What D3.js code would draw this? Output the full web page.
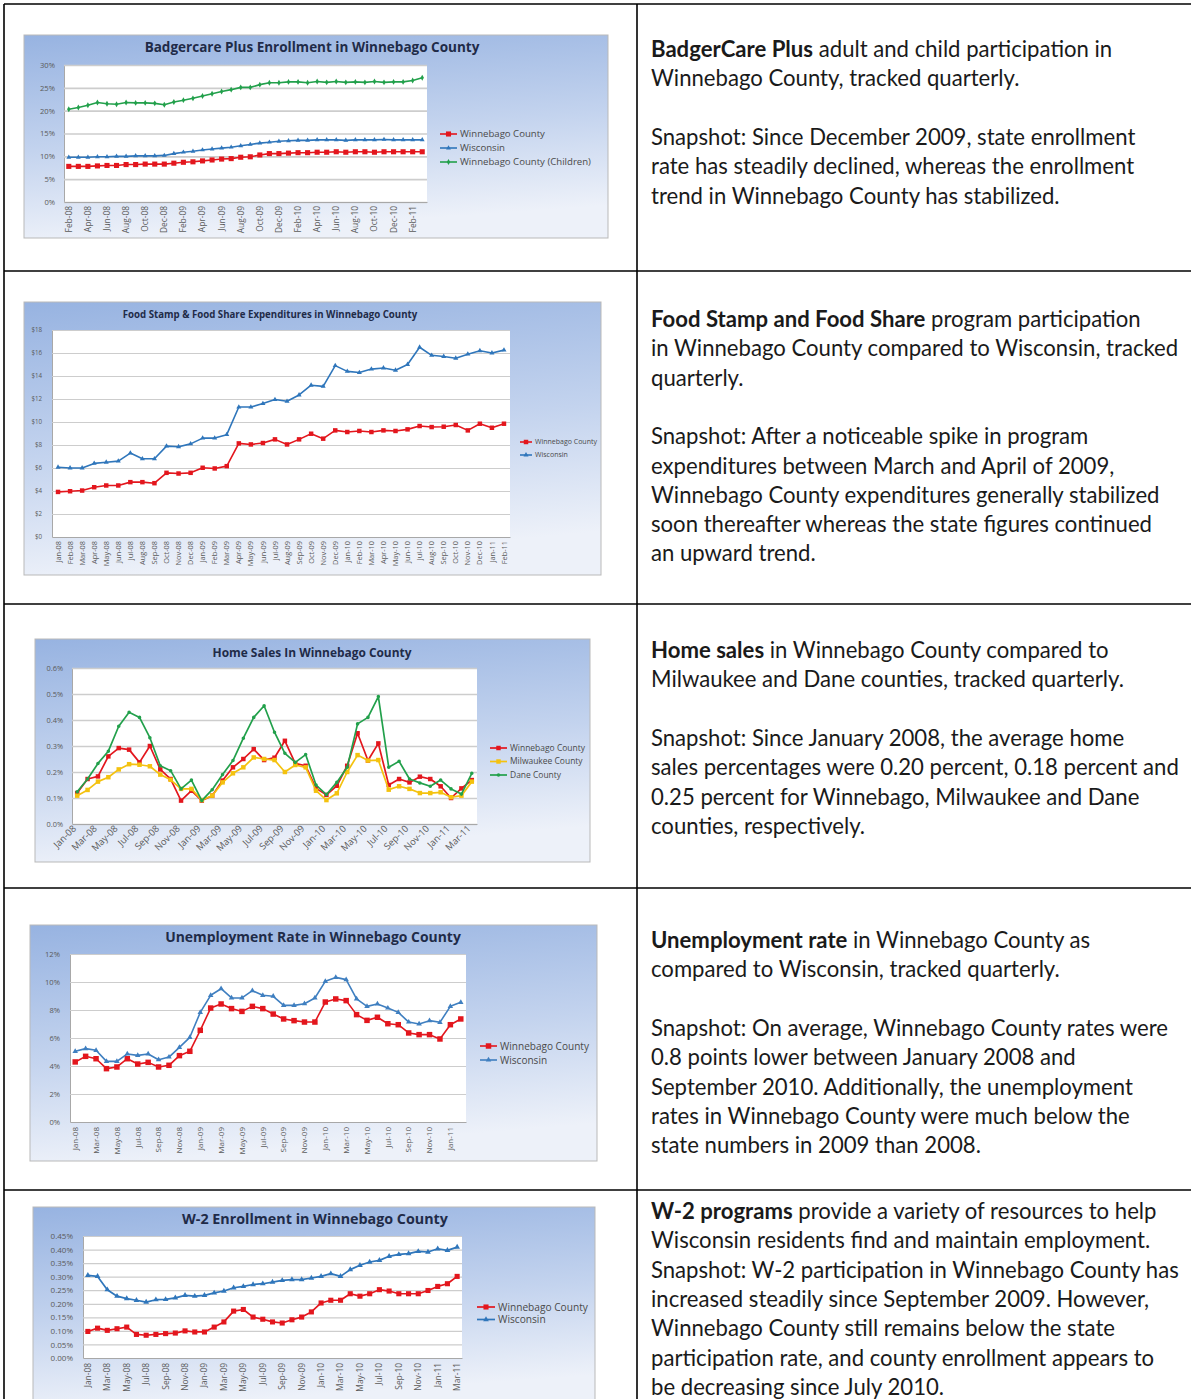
<!DOCTYPE html>
<html lang="en">
<head>
<meta charset="UTF-8">
<title>Winnebago County Indicators</title>
<script src="https://d3js.org/d3.v7.min.js"></script>
<style>
  body { margin: 0; padding: 0; background: #ffffff; }
  svg { display: block; }
  .chart-title { font-family: 'Open Sans', sans-serif; font-weight: bold; fill: #1f2b48; text-anchor: middle; }
  .axis text { font-family: 'Open Sans', sans-serif; fill: #5a5a5a; }
  .legend-text { font-family: 'Open Sans', sans-serif; fill: #4a4a4a; }
  .note { font-family: Lato, 'Open Sans', sans-serif; fill: #1a1a1a; }
</style>
</head>
<body>
<svg width="1191" height="1399"></svg>
<script>
// ---- categories ----
const months = [
  "Jan-08","Feb-08","Mar-08","Apr-08","May-08","Jun-08","Jul-08","Aug-08","Sep-08","Oct-08","Nov-08","Dec-08",
  "Jan-09","Feb-09","Mar-09","Apr-09","May-09","Jun-09","Jul-09","Aug-09","Sep-09","Oct-09","Nov-09","Dec-09",
  "Jan-10","Feb-10","Mar-10","Apr-10","May-10","Jun-10","Jul-10","Aug-10","Sep-10","Oct-10","Nov-10","Dec-10",
  "Jan-11","Feb-11","Mar-11"
];
const badgerMonths = months.slice(1, 39);   // Feb-08 .. Mar-11
const foodMonths = months.slice(0, 38);     // Jan-08 .. Feb-11
const homeMonths = months.slice(0, 39);     // Jan-08 .. Mar-11
const unempMonths = months.slice(0, 38);    // Jan-08 .. Feb-11
const w2Months = months.slice(0, 39);       // Jan-08 .. Mar-11

// ---- BadgerCare Plus enrollment (%) ----
const badgerCounty = [7.8,7.8,7.8,7.9,8.0,8.0,8.2,8.2,8.3,8.3,8.3,8.5,8.7,8.8,9.0,9.2,9.4,9.5,9.8,9.9,
  10.3,10.6,10.6,10.7,10.8,10.8,10.9,10.9,11.0,10.9,11.0,11.0,10.9,11.0,11.0,11.0,11.0,11.0];
const badgerState = [9.8,9.8,9.8,9.9,9.9,10.0,10.0,10.1,10.1,10.1,10.2,10.6,10.9,11.1,11.4,11.6,11.8,12.0,12.3,12.6,
  12.9,13.1,13.3,13.4,13.5,13.5,13.6,13.6,13.6,13.5,13.6,13.6,13.6,13.7,13.6,13.6,13.6,13.6];
const badgerChildren = [20.3,20.7,21.2,21.8,21.5,21.4,21.8,21.7,21.7,21.6,21.3,21.9,22.3,22.7,23.2,23.7,24.2,24.6,25.1,25.1,
  25.7,26.1,26.1,26.3,26.3,26.1,26.4,26.2,26.4,26.2,26.3,26.2,26.4,26.2,26.3,26.3,26.6,27.2];
const badgerTicks = [0,5,10,15,20,25,30];

// ---- Food Stamp & Food Share expenditures ($) ----
const foodCounty = [3.92,3.98,4.04,4.33,4.48,4.48,4.77,4.77,4.68,5.58,5.52,5.58,6.02,5.96,6.16,8.14,8.05,8.17,8.49,8.05,
  8.49,8.98,8.55,9.27,9.13,9.22,9.13,9.27,9.22,9.36,9.65,9.56,9.59,9.74,9.27,9.85,9.5,9.85];
const foodState = [6.07,6.0,6.0,6.4,6.5,6.6,7.3,6.8,6.8,7.9,7.85,8.1,8.6,8.6,8.9,11.3,11.3,11.6,11.95,11.8,
  12.35,13.2,13.1,14.9,14.4,14.3,14.6,14.7,14.5,15.0,16.5,15.8,15.7,15.55,15.9,16.2,16.0,16.25];
const foodTicks = [0,2,4,6,8,10,12,14,16,18];

// ---- Home sales (%) ----
const homeWinnebago = [0.119,0.173,0.183,0.26,0.292,0.286,0.237,0.30,0.21,0.173,0.09,0.128,0.09,0.109,0.167,0.218,0.25,0.288,0.246,0.255,
  0.32,0.233,0.224,0.137,0.112,0.147,0.224,0.349,0.244,0.31,0.15,0.173,0.16,0.182,0.173,0.145,0.10,0.137,0.169];
const homeMilwaukee = [0.109,0.131,0.163,0.18,0.21,0.23,0.228,0.222,0.19,0.17,0.135,0.135,0.092,0.109,0.16,0.195,0.218,0.256,0.25,0.246,
  0.2,0.227,0.218,0.128,0.092,0.118,0.2,0.265,0.244,0.246,0.132,0.145,0.135,0.119,0.119,0.122,0.103,0.109,0.163];
const homeDane = [0.124,0.173,0.233,0.28,0.376,0.43,0.41,0.332,0.224,0.205,0.135,0.169,0.09,0.132,0.19,0.244,0.33,0.41,0.455,0.353,
  0.272,0.237,0.267,0.15,0.113,0.16,0.218,0.385,0.41,0.49,0.218,0.241,0.173,0.158,0.145,0.169,0.135,0.115,0.195];
const homeTicks = [0,0.1,0.2,0.3,0.4,0.5,0.6];

// ---- Unemployment rate (%) ----
const unempCounty = [4.29,4.69,4.52,3.81,3.93,4.52,4.14,4.26,3.93,4.05,4.74,5.05,6.55,8.14,8.43,8.1,7.9,8.26,8.1,7.71,
  7.36,7.24,7.14,7.14,8.57,8.79,8.67,7.67,7.26,7.48,7.02,6.95,6.36,6.24,6.24,5.93,6.95,7.36];
const unempState = [5.05,5.24,5.12,4.33,4.33,4.86,4.76,4.86,4.45,4.64,5.33,6.05,7.83,9.05,9.52,8.86,8.86,9.38,9.05,8.98,
  8.33,8.33,8.45,8.86,10.05,10.33,10.17,8.79,8.26,8.43,8.14,7.83,7.14,7.0,7.24,7.12,8.26,8.55];
const unempTicks = [0,2,4,6,8,10,12];

// ---- W-2 enrollment (%) ----
const w2County = [0.098,0.11,0.102,0.108,0.114,0.087,0.084,0.087,0.09,0.092,0.1,0.096,0.096,0.114,0.133,0.173,0.179,0.151,0.143,0.133,
  0.129,0.141,0.151,0.17,0.203,0.213,0.213,0.237,0.228,0.237,0.252,0.247,0.237,0.237,0.237,0.249,0.264,0.274,0.301];
const w2State = [0.305,0.301,0.252,0.228,0.219,0.213,0.206,0.215,0.216,0.222,0.231,0.228,0.231,0.24,0.247,0.259,0.264,0.271,0.274,0.28,
  0.286,0.289,0.289,0.295,0.301,0.311,0.301,0.326,0.342,0.354,0.36,0.375,0.382,0.385,0.393,0.391,0.403,0.397,0.409];
const w2Ticks = [0,0.05,0.1,0.15,0.2,0.25,0.3,0.35,0.4,0.45];

// ---- styles ----
const RED = "#e3161d", BLUE = "#2f76bb", GREEN = "#22a04b", YELLOW = "#f4c20f";

const charts = [
  { title: "Badgercare Plus Enrollment in Winnebago County", categories: badgerMonths, ticks: badgerTicks,
    format: d => d + "%", labelEvery: 2,
    series: [
      { name: "Winnebago County", values: badgerCounty, color: RED, marker: d3.symbolSquare, size: 26 },
      { name: "Wisconsin", values: badgerState, color: BLUE, marker: d3.symbolTriangle, size: 10 },
      { name: "Winnebago County (Children)", values: badgerChildren, color: GREEN, marker: d3.symbolDiamond, size: 10 }
    ] },
  { title: "Food Stamp & Food Share Expenditures in Winnebago County", categories: foodMonths, ticks: foodTicks,
    format: d => "$" + d, labelEvery: 1,
    series: [
      { name: "Winnebago County", values: foodCounty, color: RED, marker: d3.symbolSquare, size: 20 },
      { name: "Wisconsin", values: foodState, color: BLUE, marker: d3.symbolTriangle, size: 11 }
    ] },
  { title: "Home Sales In Winnebago County", categories: homeMonths, ticks: homeTicks,
    format: d => d.toFixed(1) + "%", labelEvery: 2,
    series: [
      { name: "Winnebago County", values: homeWinnebago, color: RED, marker: d3.symbolSquare, size: 20 },
      { name: "Milwaukee County", values: homeMilwaukee, color: YELLOW, marker: d3.symbolSquare, size: 20 },
      { name: "Dane County", values: homeDane, color: GREEN, marker: d3.symbolCircle, size: 10 }
    ] },
  { title: "Unemployment Rate in Winnebago County", categories: unempMonths, ticks: unempTicks,
    format: d => d + "%", labelEvery: 2,
    series: [
      { name: "Winnebago County", values: unempCounty, color: RED, marker: d3.symbolSquare, size: 30 },
      { name: "Wisconsin", values: unempState, color: "#3f7fc0", marker: d3.symbolTriangle, size: 13 }
    ] },
  { title: "W-2 Enrollment in Winnebago County", categories: w2Months, ticks: w2Ticks,
    format: d => d3.format(".2f")(d) + "%", labelEvery: 2,
    series: [
      { name: "Winnebago County", values: w2County, color: RED, marker: d3.symbolSquare, size: 26 },
      { name: "Wisconsin", values: w2State, color: BLUE, marker: d3.symbolTriangle, size: 14 }
    ] }
];

const layouts = [
  { box: [24, 35, 584, 203], plot: [64, 65, 427, 202], titleX: 312, titleY: 52, titleW: 335,
    yFont: 7.6, xFont: 8.4, xGap: 4, xRot: -90, yPad: 9, grid: 1.6, legend: [440, 134, 14], legLine: 17, legW: 85, lineW: 1.6 },
  { box: [24, 302, 577, 273], plot: [52, 330, 510, 537], titleX: 270, titleY: 317.5, titleW: 295,
    yFont: 6.2, xFont: 7.4, xGap: 4, xRot: -90, yPad: 10, grid: 1.2, legend: [520, 442, 13], legLine: 12, legW: 62, lineW: 1.6 },
  { box: [35, 639, 555, 223], plot: [72, 668, 477, 824], titleX: 312, titleY: 656.5, titleW: 199,
    yFont: 7.4, xFont: 9.4, xGap: 4, xRot: -45, yPad: 9, grid: 1.6, legend: [490, 748, 13.5], legLine: 17, legW: 75, lineW: 1.7 },
  { box: [30, 925, 567, 236], plot: [70, 954, 466, 1122], titleX: 313, titleY: 942, titleW: 296,
    yFont: 7.6, xFont: 8, xGap: 5, xRot: -90, yPad: 10, grid: 1.2, legend: [480, 1046, 14], legLine: 17, legW: 89, lineW: 1.6 },
  { box: [33, 1207, 562, 200], plot: [83, 1236, 462, 1358], titleX: 315, titleY: 1224, titleW: 266,
    yFont: 8, xFont: 8.4, xGap: 5, xRot: -90, yPad: 10, grid: 1.2, legend: [477, 1307, 12.5], legLine: 18, legW: 90, lineW: 1.7 }
];

// ---- notes (right column) ----
const notes = [
  [["BadgerCare Plus", " adult and child participation in"], "Winnebago County, tracked quarterly.", "",
   "Snapshot: Since December 2009, state enrollment", "rate has steadily declined, whereas the enrollment",
   "trend in Winnebago County has stabilized."],
  [["Food Stamp and Food Share", " program participation"], "in Winnebago County compared to Wisconsin, tracked",
   "quarterly.", "", "Snapshot: After a noticeable spike in program", "expenditures between March and April of 2009,",
   "Winnebago County expenditures generally stabilized", "soon thereafter whereas the state figures continued",
   "an upward trend."],
  [["Home sales", " in Winnebago County compared to"], "Milwaukee and Dane counties, tracked quarterly.", "",
   "Snapshot: Since January 2008, the average home", "sales percentages were 0.20 percent, 0.18 percent and",
   "0.25 percent for Winnebago, Milwaukee and Dane", "counties, respectively."],
  [["Unemployment rate", " in Winnebago County as"], "compared to Wisconsin, tracked quarterly.", "",
   "Snapshot: On average, Winnebago County rates were", "0.8 points lower between January 2008 and",
   "September 2010. Additionally, the unemployment", "rates in Winnebago County were much below the",
   "state numbers in 2009 than 2008."],
  [["W-2 programs", " provide a variety of resources to help"], "Wisconsin residents find and maintain employment.",
   "Snapshot: W-2 participation in Winnebago County has", "increased steadily since September 2009. However,",
   "Winnebago County still remains below the state", "participation rate, and county enrollment appears to",
   "be decreasing since July 2010."]
];
const noteTops = [57, 327, 658, 948, 1219];
const noteX = 651, noteLine = 29.3;

const rowLines = [4, 271, 604, 888, 1190];
const colLines = [4, 637];

const svg = d3.select("svg");
const W = +svg.attr("width"), H = +svg.attr("height");

const defs = svg.append("defs");
const grad = defs.append("linearGradient").attr("id", "chartBg")
  .attr("x1", 0).attr("y1", 0).attr("x2", 0.2).attr("y2", 1);
grad.append("stop").attr("offset", "0%").attr("stop-color", "#97b3e1");
grad.append("stop").attr("offset", "55%").attr("stop-color", "#c3d3ee");
grad.append("stop").attr("offset", "100%").attr("stop-color", "#edf1f9");

function fitFont(sel, target) {
  const w = sel.node().getComputedTextLength();
  const fs = parseFloat(sel.style("font-size"));
  const nfs = fs * target / w;
  sel.style("font-size", nfs + "px");
  return nfs;
}

charts.forEach((c, ci) => {
  const L = layouts[ci];
  const [pl, pt, pr, pb] = L.plot;
  const g = svg.append("g");

  g.append("rect")
    .attr("x", L.box[0]).attr("y", L.box[1])
    .attr("width", L.box[2]).attr("height", L.box[3])
    .attr("fill", "url(#chartBg)")
    .attr("stroke", "#b9b9b9").attr("stroke-width", 1);

  g.append("rect")
    .attr("x", pl).attr("y", pt).attr("width", pr - pl).attr("height", pb - pt)
    .attr("fill", "#ffffff");

  const x = d3.scaleBand().domain(c.categories).range([pl, pr]);
  const y = d3.scaleLinear().domain([0, d3.max(c.ticks)]).range([pb, pt]);
  const cx = d => x(d) + x.bandwidth() / 2;

  // y axis + gridlines
  const ya = g.append("g").attr("class", "axis")
    .attr("transform", `translate(${pl},0)`)
    .call(d3.axisLeft(y).tickValues(c.ticks).tickFormat(c.format)
      .tickSize(-(pr - pl)).tickSizeOuter(0).tickPadding(L.yPad));
  ya.select(".domain").attr("stroke", "#a8a8a8");
  ya.selectAll(".tick line").attr("stroke", "#cdcdcd").attr("stroke-width", L.grid);
  ya.selectAll(".tick text").style("font-size", L.yFont + "px");

  // x axis
  const xa = g.append("g").attr("class", "axis")
    .attr("transform", `translate(0,${pb})`)
    .call(d3.axisBottom(x)
      .tickValues(c.categories.filter((d, i) => i % c.labelEvery === 0))
      .tickSize(0).tickSizeOuter(0));
  xa.select(".domain").attr("stroke", "#a8a8a8");
  xa.selectAll(".tick text")
    .style("font-size", L.xFont + "px")
    .style("text-anchor", "end")
    .attr("x", -L.xGap).attr("y", 0).attr("dy", "0.35em")
    .attr("transform", `rotate(${L.xRot})`);

  // title
  const t = g.append("text").attr("class", "chart-title")
    .attr("x", L.titleX).attr("y", L.titleY)
    .style("font-size", "10px")
    .text(c.title);
  fitFont(t, L.titleW);

  // series
  c.series.forEach(s => {
    const line = d3.line()
      .x((d, i) => cx(c.categories[i]))
      .y(d => y(d));
    g.append("path")
      .datum(s.values)
      .attr("d", line)
      .attr("fill", "none")
      .attr("stroke", s.color)
      .attr("stroke-width", L.lineW)
      .attr("stroke-linejoin", "round");
    g.selectAll(null)
      .data(s.values)
      .enter()
      .append("path")
      .attr("transform", (d, i) => `translate(${cx(c.categories[i])},${y(d)})`)
      .attr("d", d3.symbol().type(s.marker).size(s.size))
      .attr("fill", s.color);
  });

  // legend
  const [lx, ly, ldy] = L.legend;
  let legFont = null;
  c.series.forEach((s, i) => {
    const yy = ly + i * ldy;
    g.append("line")
      .attr("x1", lx).attr("x2", lx + L.legLine)
      .attr("y1", yy).attr("y2", yy)
      .attr("stroke", s.color).attr("stroke-width", L.lineW);
    g.append("path")
      .attr("transform", `translate(${lx + L.legLine / 2},${yy})`)
      .attr("d", d3.symbol().type(s.marker).size(s.size))
      .attr("fill", s.color);
    const lt = g.append("text").attr("class", "legend-text")
      .attr("x", lx + L.legLine + 3).attr("y", yy).attr("dy", "0.35em")
      .style("font-size", (legFont || 8) + "px")
      .text(s.name);
    if (i === 0) legFont = fitFont(lt, L.legW);
  });
});

// ---- right-hand notes ----
const probe = svg.append("text").attr("class", "note").style("font-size", "20px")
  .text("sales percentages were 0.20 percent, 0.18 percent and");
const noteSize = 20 * 528 / probe.node().getComputedTextLength();
probe.remove();

notes.forEach((rows, ri) => {
  rows.forEach((ln, li) => {
    if (ln === "") return;
    const t = svg.append("text").attr("class", "note")
      .attr("x", noteX).attr("y", noteTops[ri] + li * noteLine)
      .style("font-size", noteSize + "px");
    if (Array.isArray(ln)) {
      t.append("tspan").style("font-weight", "bold").text(ln[0]);
      t.append("tspan").text(ln[1]);
    } else {
      t.text(ln);
    }
  });
});

// ---- table rules ----
svg.selectAll("line.row-rule")
  .data(rowLines)
  .enter()
  .append("line")
  .attr("class", "row-rule")
  .attr("x1", colLines[0]).attr("x2", W)
  .attr("y1", d => d).attr("y2", d => d)
  .attr("stroke", "#000").attr("stroke-width", 1.6);

svg.selectAll("line.col-rule")
  .data(colLines)
  .enter()
  .append("line")
  .attr("class", "col-rule")
  .attr("x1", d => d).attr("x2", d => d)
  .attr("y1", rowLines[0]).attr("y2", H)
  .attr("stroke", "#000").attr("stroke-width", 1.6);
</script>
</body>
</html>
